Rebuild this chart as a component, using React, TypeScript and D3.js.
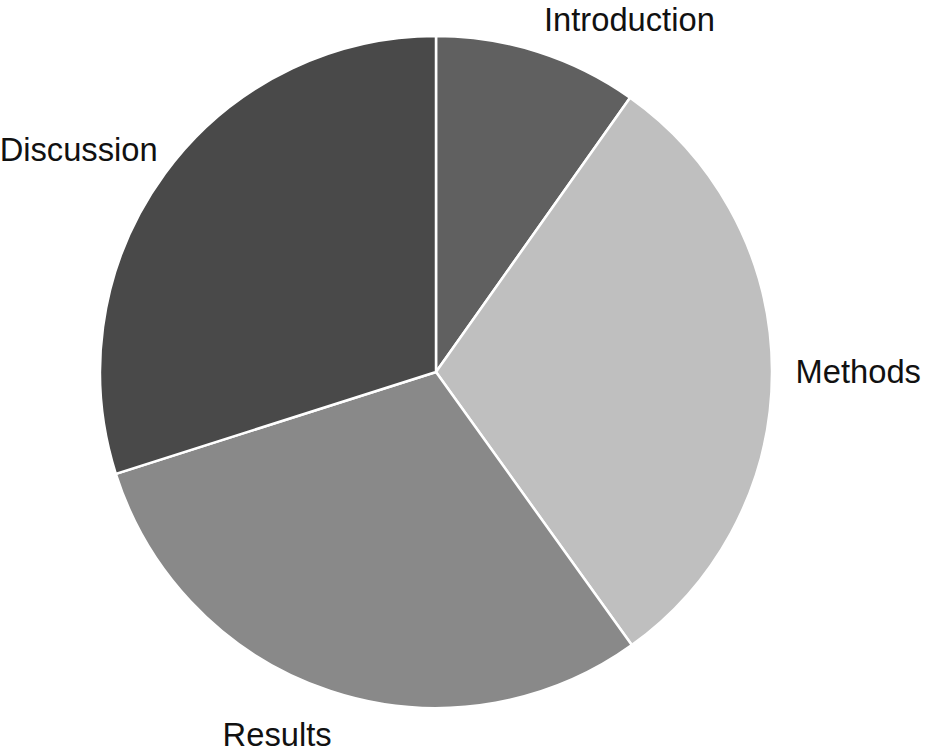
import React from "react";
import * as d3 from "d3";

// Sections of the paper, clockwise from 12 o'clock
const sections = ["Introduction", "Methods", "Results", "Discussion"];
const shares = [9.8, 30.3, 30.0, 29.9];
const fills = ["#606060", "#bfbfbf", "#898989", "#494949"];

const width = 925;
const height = 754;
const cx = 436;
const cy = 372;
const radius = 336;

// small hand nudges so the labels sit where the original put them
const nudge: Record<string, [number, number]> = {
  Introduction: [-4, 0],
  Methods: [-10, 1],
  Results: [12, 12],
  Discussion: [20, -4],
};

const App = () => {
  const pie = d3
    .pie<number>()
    .sort(null)
    .value((d) => d)
    .startAngle(0)
    .endAngle(2 * Math.PI);
  const arcs = pie(shares);

  const arc = d3.arc<d3.PieArcDatum<number>>().innerRadius(0).outerRadius(radius);

  return (
    <svg
      width={width}
      height={height}
      style={{ position: "absolute", left: 0, top: 0, background: "#fff" }}
    >
      <g transform={`translate(${cx},${cy})`}>
        {arcs.map((a, i) => (
          <path
            key={sections[i]}
            d={arc(a) || ""}
            fill={fills[i]}
            stroke="#fff"
            strokeWidth={2.5}
            strokeLinejoin="miter"
          />
        ))}
        {arcs.map((a, i) => {
          const mid = (a.startAngle + a.endAngle) / 2;
          const lr = radius * 1.1;
          const x = lr * Math.sin(mid);
          const y = -lr * Math.cos(mid);
          const [dx, dy] = nudge[sections[i]];
          return (
            <text
              key={"lab" + i}
              x={x + dx}
              y={y + dy}
              textAnchor={x < 0 ? "end" : "start"}
              dominantBaseline="central"
              fontFamily="'Liberation Sans', Arial, sans-serif"
              fontSize={32.7}
              fill="#111"
            >
              {sections[i]}
            </text>
          );
        })}
      </g>
    </svg>
  );
};

export default App;
